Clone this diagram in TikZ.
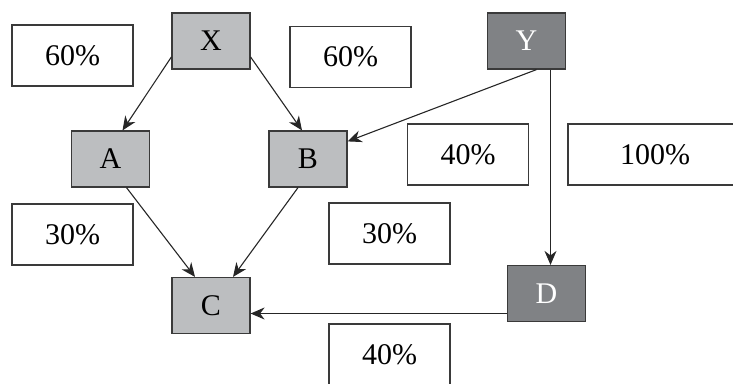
\documentclass[tikz,border=0pt]{standalone}
\usepackage{fontspec}
\setmainfont{Liberation Serif}
\usetikzlibrary{arrows.meta}
\definecolor{boxlight}{HTML}{BCBEC0}
\definecolor{boxdark}{HTML}{808285}
\definecolor{edgegray}{HTML}{3A3A3A}

\begin{document}
\begin{tikzpicture}[
      x=1pt, y=-1pt,
      pointer/.style={line width=1.1pt, draw=black!85, -{Stealth[length=14pt,width=12pt,inset=4.5pt]}},
      every node/.style={rectangle, line width=1.2pt, draw=edgegray, font=\fontsize{30}{34}\selectfont, inner sep=0pt},
      box/.style={fill=boxlight, minimum width=78pt, minimum height=56pt},
      dark/.style={box, fill=boxdark, text=white},
      share/.style={fill=white, minimum width=121pt, minimum height=61pt}
      ]

      % frame of the picture, the 100% box runs over the right edge
      \clip (0,0) rectangle (733,383);

      % the entities
      \node[box] (X) at (211,41) {X};
      \node[dark] (Y) at (526.5,41) {Y};
      \node[box] (A) at (110.5,159) {A};
      \node[box] (B) at (308,159) {B};
      \node[box] (C) at (211,305.5) {C};
      \node[dark] (D) at (546.5,293.5) {D};

      % the shares
      \node[share] (xa) at (72.5,55.5) {60\%};
      \node[share] (xb) at (350.5,57) {60\%};
      \node[share] (yb) at (468,154.5) {40\%};
      \node[share, minimum width=174pt] (yd) at (655,154.5) {100\%};
      \node[share] (ac) at (72.5,234.5) {30\%};
      \node[share] (bc) at (389.5,233.5) {30\%};
      \node[share] (dc) at (389.5,354.5) {40\%};

      % holdings
      \draw[pointer] ([yshift=-16pt]X.west) -- ([xshift=12pt]A.north);
      \draw[pointer] ([yshift=-16pt]X.east) -- ([xshift=-6pt]B.north);
      \draw[pointer] ([xshift=10pt]Y.south) -- ([yshift=-11pt]B.north east);
      \draw[pointer] ([xshift=24pt]Y.south) -- ([xshift=24pt]Y.south |- D.north);
      \draw[pointer] ([xshift=16pt]A.south) -- ([xshift=-16pt]C.north);
      \draw[pointer] ([xshift=-10pt]B.south) -- ([xshift=22pt]C.north);
      \draw[pointer] ([yshift=-20pt]D.west) -- ([yshift=-20pt]D.west -| C.east);
    \end{tikzpicture}
\end{document}
